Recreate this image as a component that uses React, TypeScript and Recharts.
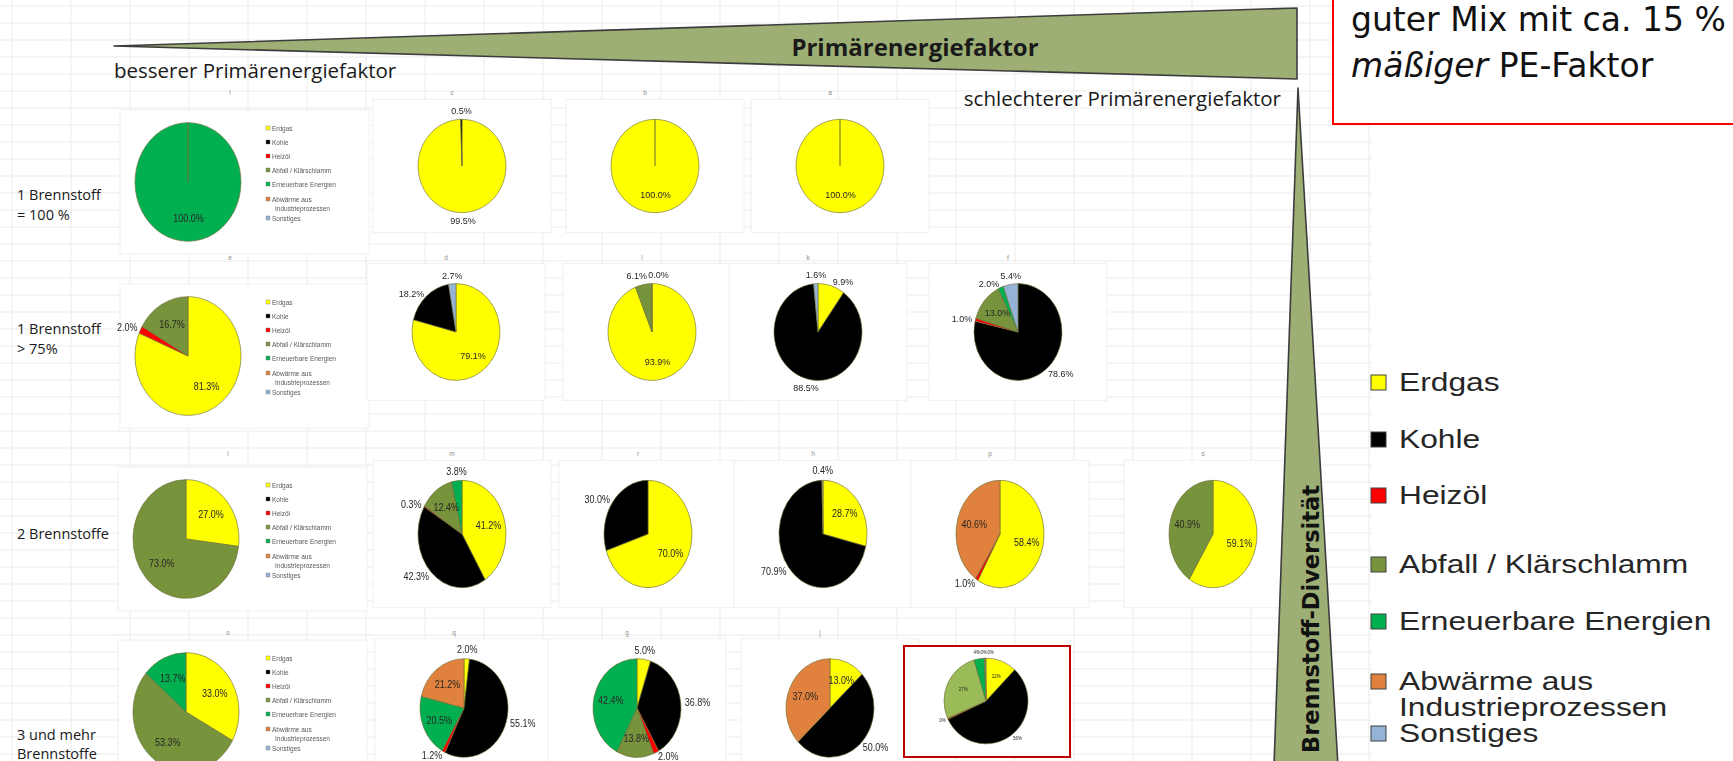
import React from 'react';
import { PieChart, Pie, Cell } from 'recharts';

const W = 1733;
const H = 761;

// Fuel categories and their colours
const categories = [
  'Erdgas',
  'Kohle',
  'Heizöl',
  'Abfall / Klärschlamm',
  'Erneuerbare Energien',
  'Abwärme aus Industrieprozessen',
  'Sonstiges',
];
const fuelColors = ['#FFFF00', '#000000', '#FF0000', '#77933C', '#00B050', '#E0823D', '#95B3D7'];

// Shares in % per plant, in category order
// Row 1: one fuel = 100 %
const row1Shares = [
  [0, 0, 0, 0, 100, 0, 0],
  [99.5, 0.5, 0, 0, 0, 0, 0],
  [100, 0, 0, 0, 0, 0, 0],
  [100, 0, 0, 0, 0, 0, 0],
];
// Row 2: one fuel > 75 %
const row2Shares = [
  [81.3, 0, 2.0, 16.7, 0, 0, 0],
  [79.1, 18.2, 0, 0, 0, 0, 2.7],
  [93.9, 0, 0, 6.1, 0, 0, 0.04],
  [9.9, 88.5, 0, 0, 0, 0, 1.6],
  [0, 78.6, 1.0, 13.0, 2.0, 0, 5.4],
];
// Row 3: two fuels
const row3Shares = [
  [27.0, 0, 0, 73.0, 0, 0, 0],
  [41.2, 42.3, 0.3, 12.4, 3.8, 0, 0],
  [70.0, 30.0, 0, 0, 0, 0, 0],
  [28.7, 70.9, 0, 0, 0, 0, 0.4],
  [58.4, 0, 1.0, 0, 0, 40.6, 0],
  [59.1, 0, 0, 40.9, 0, 0, 0],
];
// Row 4: three and more fuels
const row4Shares = [
  [33.0, 0, 0, 53.3, 13.7, 0, 0],
  [2.0, 55.1, 1.2, 0, 20.5, 21.2, 0],
  [5.0, 36.8, 2.0, 13.8, 42.4, 0, 0],
  [13.0, 50.0, 0, 0, 0, 37.0, 0],
];
// Highlighted mix (whole percent)
const highlightShares = [12, 56, 0.4, 27, 4, 0.3, 0.3];
const highlightColors = ['#FFFF00', '#000000', '#FF0000', '#9BBB59', '#00B050', '#E0823D', '#95B3D7'];

// Small chart titles above each chart
const row1Titles = ['i', 'c', 'b', 'a'];
const row2Titles = ['e', 'd', 'l', 'k', 'f'];
const row3Titles = ['l', 'm', 'r', 'h', 'p', 's'];
const row4Titles = ['o', 'q', 'g', 'j'];

const rowLabels = [['1 Brennstoff', '= 100 %'], ['1 Brennstoff', '> 75%'], ['2 Brennstoffe'], ['3 und mehr', 'Brennstoffe']];

// Layout
const bigPieCenter = [
  [188, 182],
  [188, 356],
  [186, 539],
  [186, 712],
];
const rowPieX = [
  [462, 655, 840],
  [456, 652, 818, 1018],
  [462, 648, 823, 1000, 1213],
  [464, 637, 830],
];
const rowPieY = [166, 332, 534, 708];
const rowPieSY = [1.06, 1.1, 1.22, 1.12];
const rowLabelY = [[194, 214], [328, 348], [533], [734, 753]];
const bigLegendY = [382, 439, 495, 564, 621, 681, 707, 733];
const miniLegendDY = [-54, -40, -26, -12, 2, 17, 26, 36];

type Spec = {
  shares: number[];
  x: number;
  y: number;
  r: number;
  sy: number;
  decimals?: number;
  font?: number;
  outside?: boolean;
  colors?: string[];
};

const RAD = Math.PI / 180;

function sliceData(shares: number[]) {
  return shares
    .map((v, i) => ({ name: categories[i], value: v, cat: i }))
    .filter((d) => d.value > 0);
}

type LabelBox = { left: number; y: number; w: number; out: boolean; text: string };

// Places value labels (inside for big slices, outside for coal and small slices)
// and pushes overlapping outside labels apart horizontally.
function layoutLabels(spec: Spec): Record<number, LabelBox> {
  const data = sliceData(spec.shares);
  const total = data.reduce((a, d) => a + d.value, 0);
  const font = spec.font ?? 9;
  let acc = 0;
  const items: (LabelBox & { cat: number })[] = data.map((d) => {
    const mid = 90 - ((acc + d.value / 2) / total) * 360;
    acc += d.value;
    const out = !!spec.outside || d.cat === 1 || d.value < 10;
    const cos = Math.cos(mid * RAD);
    const sin = -Math.sin(mid * RAD);
    const rr = out ? spec.r + 4 : spec.r * 0.62;
    const text = `${d.value.toFixed(spec.decimals ?? 1)}%`;
    const w = text.length * font * 0.55;
    const x = rr * cos;
    let y = rr * sin;
    let left = x - w / 2;
    if (out) {
      if (cos > 0.3) left = x;
      else if (cos < -0.3) left = x - w;
      else y += sin < 0 ? -font * 0.45 : font * 0.45;
    }
    return { left, y, w, out, text, cat: d.cat };
  });
  for (let it = 0; it < 8; it++) {
    for (let i = 0; i < items.length; i++) {
      for (let j = i + 1; j < items.length; j++) {
        const a = items[i];
        const b = items[j];
        if (!a.out || !b.out) continue;
        if (Math.abs(a.y - b.y) >= font * 1.05) continue;
        const ov = Math.min(a.left + a.w, b.left + b.w) - Math.max(a.left, b.left) + 2;
        if (ov <= 0) continue;
        const ca = a.left + a.w / 2;
        const cb = b.left + b.w / 2;
        const aIsLeft = Math.abs(ca - cb) < 0.5 ? false : ca < cb;
        if (aIsLeft) {
          a.left -= ov / 2;
          b.left += ov / 2;
        } else {
          a.left += ov / 2;
          b.left -= ov / 2;
        }
      }
    }
  }
  const byCat: Record<number, LabelBox> = {};
  items.forEach((it) => {
    byCat[it.cat] = it;
  });
  return byCat;
}

function makeLabel(spec: Spec) {
  const boxes = layoutLabels(spec);
  return (p: any) => {
    const { cx, cy } = p;
    const cat = p.payload?.cat ?? p.cat;
    const b = boxes[cat];
    if (!b) return null;
    return (
      <text
        x={cx + b.left}
        y={cy + b.y}
        textAnchor="start"
        dominantBaseline="central"
        fontSize={spec.font ?? 9}
        fill="#262626"
        fontFamily="'Liberation Sans', Arial, sans-serif"
      >
        {b.text}
      </text>
    );
  };
}

function MixPie({ spec }: { spec: Spec }) {
  const w = 2 * spec.r + 100;
  const h = 2 * spec.r + 44;
  const data = sliceData(spec.shares);
  const colors = spec.colors ?? fuelColors;
  return (
    <div
      style={{
        position: 'absolute',
        left: spec.x - w / 2,
        top: spec.y - h / 2,
        width: w,
        height: h,
        transform: `scaleY(${spec.sy})`,
        filter: 'blur(0.35px)',
      }}
    >
      <PieChart width={w} height={h} margin={{ top: 0, right: 0, bottom: 0, left: 0 }}>
        <Pie
          data={data}
          dataKey="value"
          nameKey="name"
          cx="50%"
          cy="50%"
          outerRadius={spec.r}
          startAngle={90}
          endAngle={-270}
          isAnimationActive={false}
          label={makeLabel(spec)}
          labelLine={false}
          stroke="#6f6f38"
          strokeWidth={0.6}
        >
          {data.map((d) => (
            <Cell key={d.cat} fill={colors[d.cat]} />
          ))}
        </Pie>
      </PieChart>
    </div>
  );
}

const allRows = [row1Shares, row2Shares, row3Shares, row4Shares];
const allTitles = [row1Titles, row2Titles, row3Titles, row4Titles];

function buildSpecs(): Spec[] {
  const specs: Spec[] = [];
  allRows.forEach((row, ri) => {
    row.forEach((shares, ci) => {
      if (ci === 0) {
        specs.push({ shares, x: bigPieCenter[ri][0], y: bigPieCenter[ri][1], r: 53, sy: 1.12 });
      } else {
        specs.push({
          shares,
          x: rowPieX[ri][ci - 1],
          y: rowPieY[ri],
          r: 44,
          sy: rowPieSY[ri],
          outside: ri === 0 && ci === 1,
        });
      }
    });
  });
  specs.push({
    shares: highlightShares,
    x: 986,
    y: 701,
    r: 42,
    sy: 1.02,
    decimals: 0,
    font: 4.5,
    colors: highlightColors,
  });
  return specs;
}

const specs = buildSpecs();

function legendLines(name: string) {
  return name.replace('aus ', 'aus\n').split('\n');
}

function Background() {
  const hLines: number[] = [];
  for (let y = 6; y < H; y += 17) hLines.push(y);
  const vLines: number[] = [];
  for (let x = 12; x < 1372; x += 59) vLines.push(x);
  return (
    <g>
      {hLines.map((y) => (
        <line key={'h' + y} x1={0} x2={1372} y1={y} y2={y} stroke="#ebebeb" strokeWidth={1} />
      ))}
      {vLines.map((x) => (
        <line key={'v' + x} x1={x} x2={x} y1={0} y2={H} stroke="#ebebeb" strokeWidth={1} />
      ))}
      {allRows.map((row, ri) => {
        const ry = 44 * rowPieSY[ri];
        return (
          <g key={'box' + ri}>
            <rect
              x={bigPieCenter[ri][0] - 68}
              y={bigPieCenter[ri][1] - 72}
              width={249}
              height={144}
              fill="#fff"
              stroke="#f0f0f0"
            />
            {row.slice(1).map((_, ci) => (
              <rect
                key={ci}
                x={rowPieX[ri][ci] - 89}
                y={rowPieY[ri] - ry - 20}
                width={178}
                height={2 * ry + 40}
                fill="#fff"
                stroke="#f0f0f0"
              />
            ))}
          </g>
        );
      })}
      {allTitles.map((titles, ri) =>
        titles.map((t, ci) => (
          <text
            key={`t${ri}${ci}`}
            x={ci === 0 ? bigPieCenter[ri][0] + 42 : rowPieX[ri][ci - 1] - 10}
            y={rowPieY[ri] - 44 * rowPieSY[ri] - 24}
            fontSize={6.5}
            fill="#8c8c8c"
            textAnchor="middle"
            fontFamily="'Liberation Sans', Arial, sans-serif"
          >
            {t}
          </text>
        ))
      )}
    </g>
  );
}

function MiniLegend({ yc }: { yc: number }) {
  let k = 0;
  const items: React.ReactNode[] = [];
  categories.forEach((c, i) => {
    const lines = legendLines(c);
    lines.forEach((ln, li) => {
      const y = yc + miniLegendDY[k];
      items.push(
        <g key={`${i}-${li}`}>
          {li === 0 && <rect x={266} y={y - 2} width={4} height={4} fill={fuelColors[i]} stroke="#7f7f7f" strokeWidth={0.4} />}
          <text
            x={li === 0 ? 272 : 275}
            y={y}
            fontSize={6.5}
            fill="#595959"
            dominantBaseline="central"
            fontFamily="'Liberation Sans', Arial, sans-serif"
          >
            {ln}
          </text>
        </g>
      );
      k++;
    });
  });
  return <g style={{ filter: 'blur(0.35px)' }}>{items}</g>;
}

function BigLegend() {
  let k = 0;
  const items: React.ReactNode[] = [];
  categories.forEach((c, i) => {
    const lines = legendLines(c);
    lines.forEach((ln, li) => {
      const y = bigLegendY[k];
      items.push(
        <g key={`${i}-${li}`}>
          {li === 0 && <rect x={1371} y={y - 7} width={15} height={15} fill={fuelColors[i]} stroke="#404040" strokeWidth={1} />}
          <g transform={`translate(1399, ${y}) scale(1.27 1)`}>
            <text
              x={0}
              y={0}
              fontSize={25}
              fill="#262626"
              dominantBaseline="central"
              fontFamily="'Liberation Sans', Arial, sans-serif"
            >
              {ln}
            </text>
          </g>
        </g>
      );
      k++;
    });
  });
  return <g>{items}</g>;
}

export default function App() {
  return (
    <div
      style={{
        position: 'fixed',
        left: 0,
        top: 0,
        width: W,
        height: H,
        overflow: 'hidden',
        background: '#ffffff',
        fontFamily: "'Open Sans', sans-serif",
      }}
    >
      <svg width={W} height={H} style={{ position: 'absolute', left: 0, top: 0 }}>
        <Background />

        {/* Primärenergiefaktor wedge */}
        <polygon points="114,46 1297,8 1297,79" fill="#9DAF74" stroke="#3d3d3d" strokeWidth={1.6} strokeLinejoin="round" />
        <text x={915} y={46} textAnchor="middle" dominantBaseline="central" fontSize={24} fontWeight={700} fill="#1a1a1a" fontFamily="'Open Sans', sans-serif">
          Primärenergiefaktor
        </text>
        <text x={114} y={70} dominantBaseline="central" fontSize={20.5} fill="#1a1a1a" fontFamily="'Open Sans', sans-serif">
          besserer Primärenergiefaktor
        </text>
        <text x={1281} y={98} textAnchor="end" dominantBaseline="central" fontSize={20.5} fill="#1a1a1a" fontFamily="'Open Sans', sans-serif">
          schlechterer Primärenergiefaktor
        </text>

        {/* Brennstoff-Diversität wedge */}
        <polygon points="1298,88 1274,766 1338,766" fill="#9DAF74" stroke="#3d3d3d" strokeWidth={1.6} strokeLinejoin="round" />
        <text
          x={0}
          y={0}
          transform="translate(1311, 619) rotate(-90)"
          textAnchor="middle"
          dominantBaseline="central"
          fontSize={22.5}
          fontWeight={700}
          fill="#111"
          fontFamily="'DejaVu Sans', sans-serif"
        >
          Brennstoff-Diversität
        </text>

        {/* row labels */}
        {rowLabels.map((lines, ri) =>
          lines.map((ln, li) => (
            <text key={`rl${ri}${li}`} x={17} y={rowLabelY[ri][li]} dominantBaseline="central" fontSize={14.5} fill="#1a1a1a" fontFamily="'Open Sans', sans-serif">
              {ln}
            </text>
          ))
        )}

        {/* mini legends */}
        {bigPieCenter.map((c, ri) => (
          <MiniLegend key={ri} yc={c[1]} />
        ))}

        {/* highlighted mix frame */}
        <rect x={904} y={646} width={166} height={111} fill="#fff" stroke="#C00000" strokeWidth={2} />

        {/* note box */}
        <rect x={1333} y={-6} width={420} height={130} fill="#fff" stroke="#FF0000" strokeWidth={2} />
        <text x={1351} y={31} fontSize={33} fill="#111" fontFamily="'DejaVu Sans', sans-serif">
          guter Mix mit ca. 15 %
        </text>
        <text x={1351} y={77} fontSize={33} fill="#111" fontFamily="'DejaVu Sans', sans-serif">
          <tspan fontStyle="italic">mäßiger</tspan> PE-Faktor
        </text>

        <BigLegend />
      </svg>

      {specs.map((s, i) => (
        <MixPie key={i} spec={s} />
      ))}
    </div>
  );
}
